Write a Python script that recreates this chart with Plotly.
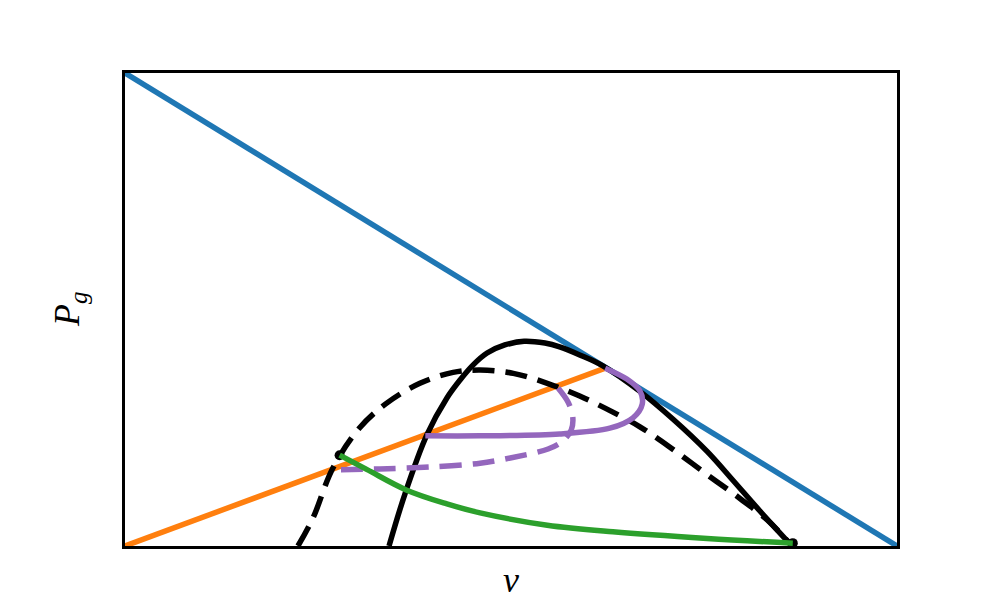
import plotly.graph_objects as go

# Values (v and P_g in normalised units)
limit_v = [0.0, 1.0]
limit_p = [1.0, 0.0]

ray_v = [0.0, 0.622]
ray_p = [0.0, 0.376]

solid_v = [0.342, 0.363, 0.391, 0.417, 0.434, 0.451, 0.469, 0.492, 0.517,
           0.544, 0.563, 0.589, 0.619, 0.667, 0.710, 0.754, 0.788, 0.823, 0.864]
solid_p = [0.000, 0.112, 0.235, 0.313, 0.351, 0.383, 0.408, 0.425, 0.433,
           0.429, 0.421, 0.404, 0.381, 0.327, 0.268, 0.200, 0.138, 0.073, 0.000]

dashed_v = [0.224, 0.244, 0.269, 0.304, 0.339, 0.382, 0.425, 0.460,
            0.503, 0.547, 0.589, 0.632, 0.667, 0.710, 0.754, 0.797, 0.832, 0.864]
dashed_p = [0.000, 0.061, 0.164, 0.250, 0.302, 0.344, 0.367, 0.372,
            0.365, 0.344, 0.317, 0.283, 0.252, 0.204, 0.151, 0.100, 0.055, 0.000]

stable_v = [0.389, 0.460, 0.563, 0.628, 0.658, 0.670, 0.667, 0.650, 0.622]
stable_p = [0.233, 0.233, 0.237, 0.249, 0.271, 0.300, 0.328, 0.353, 0.376]

unstable_v = [0.561, 0.574, 0.580, 0.578, 0.567, 0.548, 0.499, 0.460, 0.395, 0.330, 0.269]
unstable_p = [0.334, 0.304, 0.273, 0.245, 0.222, 0.205, 0.186, 0.175, 0.167, 0.163, 0.161]

green_v = [0.278, 0.313, 0.365, 0.417, 0.460, 0.547, 0.632, 0.754, 0.865]
green_p = [0.192, 0.162, 0.118, 0.089, 0.070, 0.044, 0.030, 0.016, 0.006]

DASH = '22px,11px'
LW = 5.5

fig = go.Figure()

fig.add_trace(go.Scatter(x=limit_v, y=limit_p, mode='lines',
                         line=dict(color='#1f77b4', width=LW)))
fig.add_trace(go.Scatter(x=ray_v, y=ray_p, mode='lines',
                         line=dict(color='#ff7f0e', width=LW)))
fig.add_trace(go.Scatter(x=solid_v, y=solid_p, mode='lines',
                         line=dict(color='black', width=LW, shape='spline', smoothing=1)))
fig.add_trace(go.Scatter(x=dashed_v, y=dashed_p, mode='lines',
                         line=dict(color='black', width=LW, dash=DASH,
                                   shape='spline', smoothing=1)))
fig.add_trace(go.Scatter(x=stable_v, y=stable_p, mode='lines',
                         line=dict(color='#9467bd', width=LW, shape='spline', smoothing=0.9)))
fig.add_trace(go.Scatter(x=unstable_v, y=unstable_p, mode='lines',
                         line=dict(color='#9467bd', width=LW, dash=DASH,
                                   shape='spline', smoothing=0.9)))
# black dots at the ends of the green branch
fig.add_trace(go.Scatter(x=[green_v[0], green_v[-1]], y=[green_p[0], green_p[-1]],
                         mode='markers', marker=dict(color='black', size=10)))
fig.add_trace(go.Scatter(x=green_v, y=green_p, mode='lines',
                         line=dict(color='#2ca02c', width=LW, shape='spline', smoothing=1)))

label_font = dict(family='Liberation Serif', size=36, color='black')

fig.update_layout(
    width=980,
    height=599,
    margin=dict(l=117, r=91, t=65, b=61),
    plot_bgcolor='white',
    paper_bgcolor='white',
    showlegend=False,
    annotations=[
        dict(text='<i>v</i>', x=0.5, y=-0.025, xref='paper', yref='paper',
             xanchor='center', yanchor='top', showarrow=False, font=label_font),
        dict(text='<i>P</i><sub><i>g</i></sub>', x=-0.04, y=0.5, xref='paper', yref='paper',
             xanchor='right', yanchor='middle', textangle=-90, showarrow=False,
             font=label_font),
    ],
)

fig.update_xaxes(range=[0, 1], showgrid=False, zeroline=False, showticklabels=False,
                 ticks='', showline=True, linewidth=2.5, linecolor='black', mirror=True)
fig.update_yaxes(range=[0, 1], showgrid=False, zeroline=False, showticklabels=False,
                 ticks='', showline=True, linewidth=2.5, linecolor='black', mirror=True)

fig.write_html("out.html")
